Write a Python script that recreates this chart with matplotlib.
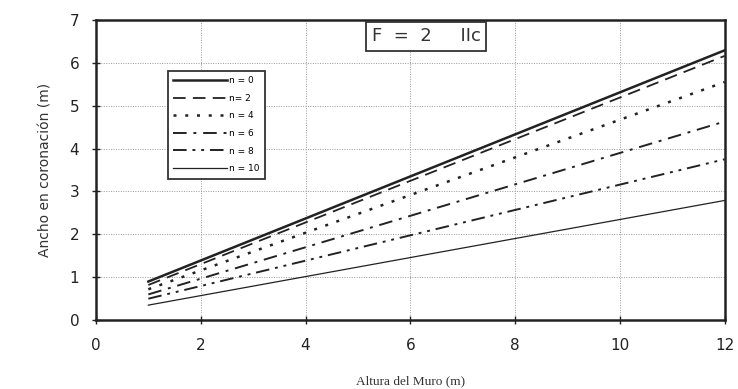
import numpy as np
import matplotlib
matplotlib.use('Agg')
import matplotlib.pyplot as plt

# wall height (m) and crest width (m) for each n
altura = [1, 12]
ancho = {
    'n = 0': [0.90, 6.29],
    'n= 2': [0.82, 6.16],
    'n = 4': [0.72, 5.55],
    'n = 6': [0.60, 4.63],
    'n = 8': [0.50, 3.75],
    'n = 10': [0.35, 2.79],
}
estilos = [
    dict(ls='-', lw=1.8),
    dict(ls=(0, (7, 4)), lw=1.3),
    dict(ls=(0, (1.2, 3.5)), lw=1.8),
    dict(ls=(0, (7, 3.5, 1.5, 3.5)), lw=1.4),
    dict(ls=(0, (7, 3, 1.5, 3, 1.5, 3)), lw=1.4),
    dict(ls='-', lw=0.9),
]

fig = plt.figure(figsize=(7.38, 3.89), dpi=100)
ax = fig.add_axes([0.130, 0.177, 0.852, 0.772])

for (label, vals), st in zip(ancho.items(), estilos):
    ax.plot(altura, vals, color='#222222', label=label, **st)

ax.set_xlim(0, 12)
ax.set_ylim(0, 7)
ax.set_xticks(np.arange(0, 13, 2))
ax.set_yticks(np.arange(0, 8, 1))
ax.grid(True, color='#999999', ls=(0, (1, 1.5)), lw=0.7)
for s in ax.spines.values():
    s.set_linewidth(1.8)
    s.set_color('#222222')
ax.tick_params(direction='inout', length=6, width=1, labelsize=11,
               colors='#222222')
ax.tick_params(axis='x', pad=10)
ax.tick_params(axis='y', pad=9)

ax.set_ylabel('Ancho en coronación (m)', fontsize=10, color='#333333',
              labelpad=12)
ax.set_xlabel('Altura del Muro (m)', fontsize=9.5, family='Liberation Serif',
              color='#333333', labelpad=16)

leg = ax.legend(loc='upper left', bbox_to_anchor=(0.107, 0.845), fontsize=6.5,
                handlelength=6, handletextpad=0.2, labelspacing=0.95,
                borderpad=0.6, fancybox=False, edgecolor='#333333',
                framealpha=1)
leg.get_frame().set_linewidth(1.3)

ax.text(0.525, 0.975, 'F  =  2     IIc', transform=ax.transAxes, ha='center',
        va='top', fontsize=13, color='#333333',
        bbox=dict(boxstyle='square,pad=0.3', fc='white', ec='#333333', lw=1.3))

fig.savefig('out.png', dpi=100)
